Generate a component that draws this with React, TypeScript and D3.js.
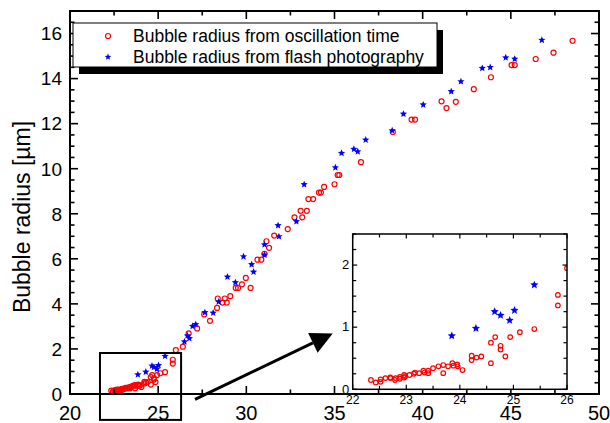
import React from 'react';
import * as d3 from 'd3';

const W = 610;
const H = 423;

// Bubble radius from oscillation time (x: time-like axis value, y: radius µm)
const oscX = [
  22.34, 22.43, 22.52, 22.52, 22.61, 22.70, 22.71, 22.79, 22.80, 22.88, 22.88, 22.96, 22.96, 22.98,
  23.06, 23.14, 23.16, 23.24, 23.32, 23.34, 23.41, 23.41, 23.50, 23.60, 23.69, 23.69, 23.78, 23.86,
  23.88, 23.95, 23.96, 24.05, 24.22, 24.22, 24.31, 24.40, 24.58, 24.58, 24.66, 24.76, 24.76, 24.85,
  24.94, 25.12, 25.39, 25.83, 25.83, 26.00,
  26.40, 26.73, 27.21, 27.61, 27.94, 28.34, 28.38, 28.65, 28.78, 28.89, 29.09, 29.40, 29.53, 29.75,
  29.97, 30.24, 30.63, 30.85, 31.03, 31.14, 31.29, 31.58, 32.35, 32.73, 33.08, 33.17, 33.43, 33.52,
  33.79, 34.12, 34.23, 34.41, 35.00, 35.18, 35.27, 36.50, 38.31, 39.37, 39.57, 41.07, 41.35, 41.88,
  42.90, 43.87, 45.04, 45.22, 46.41, 47.42, 48.50,
];
const oscY = [
  0.15, 0.11, 0.12, 0.16, 0.18, 0.19, 0.18, 0.15, 0.18, 0.20, 0.17, 0.23, 0.19, 0.21,
  0.23, 0.25, 0.27, 0.26, 0.30, 0.27, 0.30, 0.26, 0.34, 0.37, 0.39, 0.26, 0.37, 0.42,
  0.38, 0.40, 0.37, 0.31, 0.54, 0.47, 0.51, 0.53, 0.75, 0.42, 0.84, 0.70, 0.64, 0.53,
  0.84, 0.92, 0.97, 1.52, 1.35, 1.95,
  2.10, 2.69, 2.91, 3.53, 3.25, 3.82, 4.24, 4.06, 4.24, 4.06, 4.34, 4.71, 4.71, 4.87,
  5.15, 4.71, 5.96, 5.96, 6.22, 6.78, 6.49, 7.03, 7.32, 7.84, 8.13, 7.84, 8.13, 8.65,
  8.65, 8.94, 8.94, 9.19, 9.31, 9.72, 9.72, 10.29, 11.63, 12.18, 12.18, 12.99, 12.69, 12.97,
  13.53, 14.06, 14.60, 14.60, 14.87, 15.15, 15.68,
];

// Bubble radius from flash photography
const flashX = [
  23.85, 24.30, 24.65, 24.76, 24.93, 25.02, 25.39, 26.49, 26.66, 26.77, 26.95, 27.13, 27.65, 28.12,
  28.43, 28.93, 29.38, 29.84, 30.30, 30.41, 31.03, 31.03, 31.80, 31.85, 32.84, 33.28, 35.05, 35.40,
  36.10, 36.32, 36.77, 38.27, 38.91, 40.03, 41.62, 42.17, 43.38, 43.83, 44.71, 45.22, 46.76,
];
const flashY = [
  0.86, 0.98, 1.25, 1.19, 1.11, 1.27, 1.68, 2.32, 2.59, 2.47, 3.01, 3.09, 3.62, 3.60,
  4.09, 5.20, 4.95, 6.10, 5.75, 5.42, 6.63, 6.17, 7.48, 6.99, 7.66, 9.30, 10.05, 10.69,
  10.87, 10.76, 11.28, 11.69, 12.43, 12.84, 13.43, 13.87, 14.46, 14.50, 14.93, 14.87, 15.71,
];

const mainXTickLabels = [20, 25, 30, 35, 40, 45, 50];
const mainYTickLabels = [0, 2, 4, 6, 8, 10, 12, 14, 16];
const insetXTickLabels = [22, 23, 24, 25, 26];
const insetYTickLabels = [0, 1, 2];
const legendLabels = ['Bubble radius from oscillation time', 'Bubble radius from flash photography'];
const yTitle = 'Bubble radius [µm]';

// annotation (data units of the main plot)
const zoomBox = { x0: 21.7, x1: 26.3, y0: -1.15, y1: 1.82 };
const arrow = { x0: 27.09, y0: -0.235, x1: 34.9, y1: 2.69 };

const FONT = "'Liberation Sans', Arial, Helvetica, sans-serif";

const M = { left: 70, right: 599, top: 11, bottom: 394 };
const IN = { left: 352.7, right: 567, top: 234, bottom: 389.3 };

function starPath(cx: number, cy: number, R: number) {
  const pts: string[] = [];
  for (let i = 0; i < 10; i++) {
    const a = -Math.PI / 2 + (i * Math.PI) / 5;
    const r = i % 2 === 0 ? R : R * 0.45;
    pts.push(`${(cx + r * Math.cos(a)).toFixed(2)},${(cy + r * Math.sin(a)).toFixed(2)}`);
  }
  return 'M' + pts.join('L') + 'Z';
}

function Frame({ x, y, xt, yt, box, majX, majY, minLen, majLen, sw }: any) {
  const lines: any[] = [];
  xt.forEach((t: number, i: number) => {
    const px = x(t);
    const L = majX(t) ? majLen : minLen;
    lines.push(<line key={'xb' + i} x1={px} x2={px} y1={box.bottom} y2={box.bottom - L} />);
    lines.push(<line key={'xt' + i} x1={px} x2={px} y1={box.top} y2={box.top + L} />);
  });
  yt.forEach((t: number, i: number) => {
    const py = y(t);
    const L = majY(t) ? majLen : minLen;
    lines.push(<line key={'yl' + i} x1={box.left} x2={box.left + L} y1={py} y2={py} />);
    lines.push(<line key={'yr' + i} x1={box.right} x2={box.right - L} y1={py} y2={py} />);
  });
  return (
    <g stroke="#000" strokeWidth={sw * 0.8} fill="none">
      {lines}
      <rect x={box.left} y={box.top} width={box.right - box.left} height={box.bottom - box.top} strokeWidth={sw} />
    </g>
  );
}

export default function App() {
  const x = d3.scaleLinear().domain([20, 50]).range([M.left, M.right]);
  const y = d3.scaleLinear().domain([0, 17]).range([M.bottom, M.top]);
  const xi = d3.scaleLinear().domain([22, 26]).range([IN.left, IN.right]);
  const yi = d3.scaleLinear().domain([0, 2.5]).range([IN.bottom, IN.top]);

  const mainXT = d3.range(20, 50.001, 2.5);
  const mainYT = d3.range(0, 17.001, 0.5);
  const inXT = d3.range(22, 26.001, 0.5);
  const inYT = d3.range(0, 2.5001, 0.25);

  // arrow geometry
  const ax0 = x(arrow.x0), ay0 = y(arrow.y0), ax1 = x(arrow.x1), ay1 = y(arrow.y1);
  const dx = ax1 - ax0, dy = ay1 - ay0, len = Math.hypot(dx, dy);
  const ux = dx / len, uy = dy / len;
  const headL = 22, headW = 11;
  const bx = ax1 - ux * headL, by = ay1 - uy * headL;
  const head = `M${ax1},${ay1}L${bx - uy * headW},${by + ux * headW}L${bx + uy * headW},${by - ux * headW}Z`;

  return (
    <svg width={W} height={H} style={{ position: 'absolute', left: 0, top: 0, background: '#fff' }} fontFamily={FONT}>
      <rect x={0} y={0} width={W} height={H} fill="#fff" />

      {/* main data */}
      <g>
        {oscX.map((v, i) => (
          <circle key={'o' + i} cx={x(v)} cy={y(oscY[i])} r={2.5} fill="none" stroke="#ff0000" strokeWidth={1.2} />
        ))}
        {flashX.map((v, i) => (
          <path key={'f' + i} d={starPath(x(v), y(flashY[i]), 3.8)} fill="#0000ff" />
        ))}
      </g>

      <Frame x={x} y={y} xt={mainXT} yt={mainYT} box={M}
        majX={(t: number) => t % 5 === 0} majY={(t: number) => t % 2 === 0}
        minLen={4.5} majLen={8} sw={2} />

      {/* main tick labels */}
      <g fontSize={20} fill="#000" textAnchor="middle">
        {mainXTickLabels.map((t) => (
          <text key={'xl' + t} x={x(t)} y={420}>{t}</text>
        ))}
      </g>
      <g fontSize={19} fill="#000" textAnchor="end">
        {mainYTickLabels.map((t) => (
          <text key={'yl' + t} x={M.left - 8} y={y(t) + 6.8}>{t}</text>
        ))}
      </g>
      <text transform={`translate(30,217) rotate(-90)`} textAnchor="middle" fontSize={23} fill="#000">{yTitle}</text>

      {/* legend */}
      <rect x={79} y={30} width={364} height={44} fill="#000" />
      <rect x={73} y={23} width={364} height={44} fill="#fff" stroke="#000" strokeWidth={1} />
      <circle cx={108} cy={36} r={2.5} fill="none" stroke="#ff0000" strokeWidth={1.2} />
      <path d={starPath(108, 57, 3.4)} fill="#0000ff" />
      <g fontSize={17.5} fill="#000">
        <text x={133} y={42.3}>{legendLabels[0]}</text>
        <text x={133} y={63.3}>{legendLabels[1]}</text>
      </g>

      {/* zoom box & arrow */}
      <rect x={x(zoomBox.x0)} y={y(zoomBox.y1)} width={x(zoomBox.x1) - x(zoomBox.x0)} height={y(zoomBox.y0) - y(zoomBox.y1)}
        fill="none" stroke="#000" strokeWidth={2} />
      <line x1={ax0} y1={ay0} x2={bx} y2={by} stroke="#000" strokeWidth={3} />
      <path d={head} fill="#000" />

      {/* inset */}
      <defs>
        <clipPath id="inclip">
          <rect x={IN.left} y={IN.top} width={IN.right - IN.left} height={IN.bottom - IN.top} />
        </clipPath>
      </defs>
      <rect x={IN.left} y={IN.top} width={IN.right - IN.left} height={IN.bottom - IN.top} fill="#fff" />
      <g clipPath="url(#inclip)">
        {oscX.map((v, i) => (
          <circle key={'io' + i} cx={xi(v)} cy={yi(oscY[i])} r={2.3} fill="none" stroke="#ff0000" strokeWidth={1.2} />
        ))}
        {flashX.map((v, i) => (
          <path key={'if' + i} d={starPath(xi(v), yi(flashY[i]), 4.3)} fill="#0000ff" />
        ))}
      </g>
      <Frame x={xi} y={yi} xt={inXT} yt={inYT} box={IN}
        majX={(t: number) => t % 1 === 0} majY={(t: number) => t % 1 === 0}
        minLen={3.5} majLen={4.5} sw={1.5} />
      <g fontSize={12} fill="#000" textAnchor="middle">
        {insetXTickLabels.map((t) => (
          <text key={'ixl' + t} x={xi(t)} y={403.5}>{t}</text>
        ))}
      </g>
      <g fontSize={13} fill="#000" textAnchor="end">
        {insetYTickLabels.map((t) => (
          <text key={'iyl' + t} x={IN.left - 3.5} y={yi(t) + 4.2}>{t}</text>
        ))}
      </g>
    </svg>
  );
}
